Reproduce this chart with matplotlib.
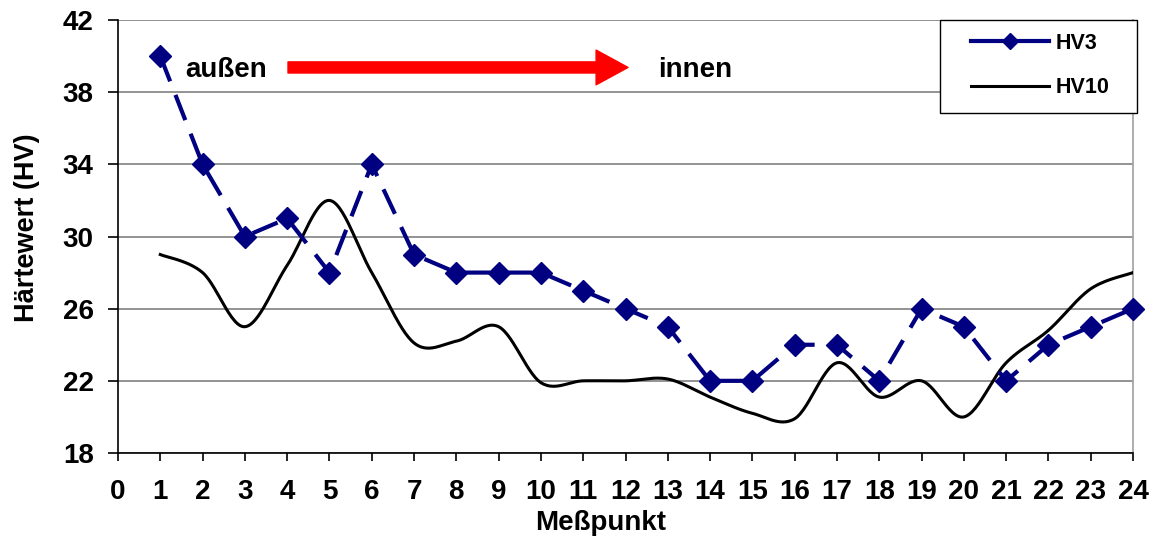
import matplotlib
matplotlib.use("Agg")
import matplotlib.pyplot as plt
from matplotlib.patches import Rectangle
import numpy as np

plt.rcParams["font.family"] = ["Liberation Sans", "DejaVu Sans"]
plt.rcParams["font.weight"] = "bold"

messpunkt = list(range(1, 25))
hv3 = [40, 34, 30, 31, 28, 34, 29, 28, 28, 28, 27, 26,
       25, 22, 22, 24, 24, 22, 26, 25, 22, 24, 25, 26]
hv10 = [29, 28, 25, 28.4, 32, 28, 24.1, 24.2, 25, 21.9, 22, 22,
        22.1, 21.1, 20.2, 19.9, 23, 21.1, 22, 20, 23, 24.8, 27.1, 28]


def smooth_line(xs, ys, steps=30):
    """Bezier smoothing through every point (Catmull-Rom style control points)."""
    x = np.asarray(xs, float)
    y = np.asarray(ys, float)
    n = len(x)
    out_x, out_y = [], []
    t = np.linspace(0, 1, steps)
    for i in range(n - 1):
        p0 = np.array([x[i], y[i]])
        p3 = np.array([x[i + 1], y[i + 1]])
        prev = np.array([x[max(i - 1, 0)], y[max(i - 1, 0)]])
        nxt = np.array([x[min(i + 2, n - 1)], y[min(i + 2, n - 1)]])
        p1 = p0 + (p3 - prev) / 6
        p2 = p3 - (nxt - p0) / 6
        b = ((1 - t) ** 3)[:, None] * p0 + (3 * (1 - t) ** 2 * t)[:, None] * p1 \
            + (3 * (1 - t) * t ** 2)[:, None] * p2 + (t ** 3)[:, None] * p3
        out_x.extend(b[:, 0])
        out_y.extend(b[:, 1])
    return out_x, out_y


W, H = 1159, 537
fig = plt.figure(figsize=(W / 100, H / 100), dpi=100)
ax = fig.add_axes([118 / W, 1 - 453 / H, (1133 - 118) / W, (453 - 20) / H])

ax.set_xlim(0, 24)
ax.set_ylim(18, 42)
ax.set_yticks(range(18, 43, 4))
ax.set_xticks(range(0, 25))
ax.grid(axis="y", color="#808080", linewidth=1.2)
ax.set_axisbelow(True)

ax.spines["top"].set_visible(False)
ax.spines["right"].set_color("#a0a0a0")
ax.spines["right"].set_linewidth(1.2)
ax.spines["left"].set_linewidth(1.2)
ax.spines["bottom"].set_linewidth(1.2)

sx, sy = smooth_line(messpunkt, hv10)
ax.plot(sx, sy, color="black", linewidth=2.2, label="HV10", zorder=3)
ax.plot(messpunkt, hv3, color="#000080", linewidth=3, dashes=(6.5, 3.5),
        marker="D", markersize=11, label="HV3", zorder=4, clip_on=False)

ax.tick_params(axis="y", length=7.5, width=1.2, pad=10, labelsize=20)
ax.tick_params(axis="x", length=6, width=1.2, pad=13, labelsize=20)
for lbl in ax.get_xticklabels() + ax.get_yticklabels():
    lbl.set_fontweight("bold")

fig.text(601 / W, 1 - 523 / H, "Meßpunkt", ha="center", va="center",
         fontsize=20, fontweight="bold")
fig.text(27 / W, 1 - 228 / H, "Härtewert (HV)", ha="center", va="center",
         rotation=90, fontsize=19.5, fontweight="bold")

# direction hint: outside -> inside
ax.text(1.6, 39.23, "außen", ha="left", va="center", fontsize=20, fontweight="bold")
ax.text(12.77, 39.23, "innen", ha="left", va="center", fontsize=20, fontweight="bold")
ax.annotate("", xy=(12.06, 39.37), xytext=(4.02, 39.37),
            arrowprops=dict(arrowstyle="simple,head_length=1.15,head_width=1.25,tail_width=0.4",
                            color="red", mutation_scale=20, shrinkA=0, shrinkB=0))

# legend: frame drawn separately so the padding can be set freely
ax.add_patch(Rectangle((940 / W, 1 - 113 / H), 197 / W, 93 / H,
                       transform=fig.transFigure, facecolor="white",
                       edgecolor="black", linewidth=1.0, zorder=5, clip_on=False))
handles, labels = ax.get_legend_handles_labels()
leg = ax.legend(handles[::-1], labels[::-1], loc="center left",
                bbox_to_anchor=(971 / W, 1 - 65.5 / H), bbox_transform=fig.transFigure,
                frameon=False, borderaxespad=0, borderpad=0,
                handlelength=3.6, handletextpad=0.35, labelspacing=1.1,
                prop={"size": 15.5, "weight": "bold"})
leg.set_zorder(6)
for line in leg.get_lines():
    if line.get_label() == "HV3":
        line.set_linestyle("-")
        line.set_markersize(8.5)

fig.savefig("out.png", dpi=100)
